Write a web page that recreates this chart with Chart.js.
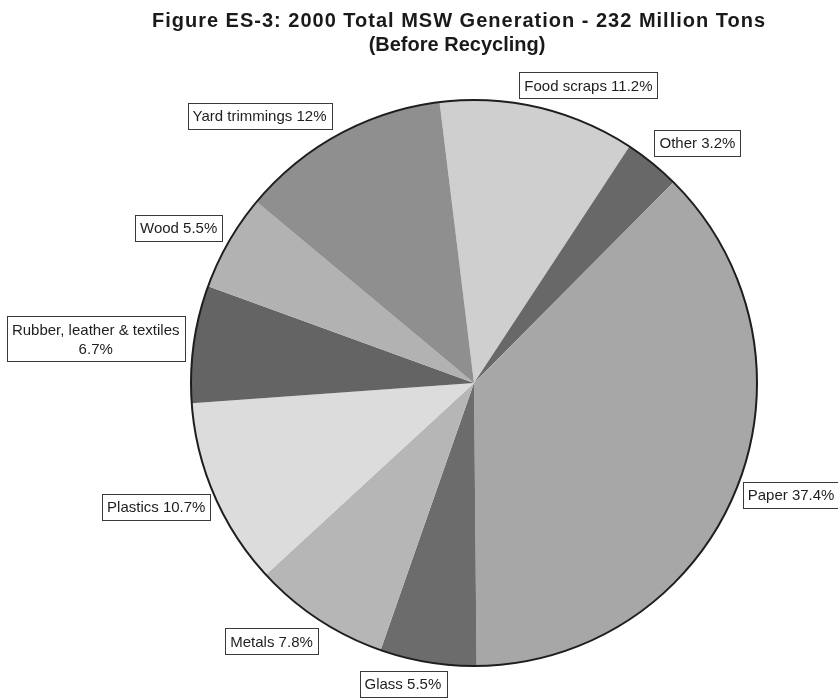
<!DOCTYPE html>
<html lang="en">
<head>
  <meta charset="UTF-8" />
  <title>Figure ES-3: 2000 Total MSW Generation</title>
  <script src="https://cdn.jsdelivr.net/npm/chart.js"></script>
  <style>
    body {
      margin: 0;
      padding: 0;
      background-color: #ffffff;
      overflow: hidden;
    }
    canvas {
      display: block;
    }
  </style>
</head>
<body>
  <canvas id="mswChart" width="838" height="698"></canvas>

  <script>
    const titleLines = [
      'Figure ES-3: 2000 Total MSW Generation - 232 Million Tons',
      '(Before Recycling)'
    ];

    const categories = [
      'Food scraps', 'Other', 'Paper', 'Glass', 'Metals',
      'Plastics', 'Rubber, leather & textiles', 'Wood', 'Yard trimmings'
    ];
    const shares = [11.2, 3.2, 37.4, 5.5, 7.8, 10.7, 6.7, 5.5, 12];
    const shareText = ['11.2%', '3.2%', '37.4%', '5.5%', '7.8%', '10.7%', '6.7%', '5.5%', '12%'];

    // styling only
    const sliceColors = [
      '#cfcfcf', '#686868', '#a7a7a7', '#6c6c6c', '#b6b6b6',
      '#dcdcdc', '#646464', '#b2b2b2', '#8f8f8f'
    ];
    // label offset from the point where the slice middle meets the rim
    const labelOffsets = [
      [50, -22], [45, -20], [55, 5], [-25, 22], [-47, 22],
      [-58, 12], [-98, -5], [-50, -14], [-79, -19]
    ];
    const labelFont = '15px "Liberation Sans", Arial, sans-serif';

    const titlePlugin = {
      id: 'figTitle',
      afterDraw(chart) {
        const c = chart.ctx;
        c.save();
        c.fillStyle = '#1a1a1a';
        c.font = 'bold 20px "Liberation Sans", Arial, sans-serif';
        c.textAlign = 'center';
        c.textBaseline = 'alphabetic';
        c.letterSpacing = '1px';
        c.fillText(titleLines[0], 459, 27);
        c.letterSpacing = '0px';
        c.fillText(titleLines[1], 457, 51);
        c.restore();
      }
    };

    const rimAndLabels = {
      id: 'rimAndLabels',
      afterDatasetsDraw(chart) {
        const c = chart.ctx;
        const arcs = chart.getDatasetMeta(0).data;
        if (!arcs.length) return;
        const a0 = arcs[0];

        // dark outline around the pie
        c.save();
        c.beginPath();
        c.arc(a0.x, a0.y, a0.outerRadius, 0, Math.PI * 2);
        c.lineWidth = 2;
        c.strokeStyle = '#1e1e1e';
        c.stroke();

        c.font = labelFont;
        c.textAlign = 'center';
        c.textBaseline = 'middle';
        arcs.forEach((arc, i) => {
          const mid = (arc.startAngle + arc.endAngle) / 2;
          const ax = arc.x + Math.cos(mid) * arc.outerRadius;
          const ay = arc.y + Math.sin(mid) * arc.outerRadius;
          const cx = ax + labelOffsets[i][0];
          const cy = ay + labelOffsets[i][1];

          let lines;
          if (categories[i].length > 20) {
            lines = [categories[i], shareText[i]];
          } else {
            lines = [categories[i] + ' ' + shareText[i]];
          }
          const lh = 19;
          const w = Math.max(...lines.map(l => c.measureText(l).width)) + 10;
          const h = lines.length * lh + 7;

          c.fillStyle = '#ffffff';
          c.fillRect(cx - w / 2, cy - h / 2, w, h);
          c.lineWidth = 1;
          c.strokeStyle = '#3a3a3a';
          c.strokeRect(Math.round(cx - w / 2) + 0.5, Math.round(cy - h / 2) + 0.5, Math.round(w), Math.round(h));

          c.fillStyle = '#1e1e1e';
          lines.forEach((l, k) => {
            c.fillText(l, cx, cy - (lines.length - 1) * lh / 2 + k * lh + 1);
          });
        });
        c.restore();
      }
    };

    const ctx = document.getElementById('mswChart').getContext('2d');

    new Chart(ctx, {
      type: 'pie',
      data: {
        labels: categories,
        datasets: [{
          data: shares,
          backgroundColor: sliceColors,
          borderWidth: 0
        }]
      },
      options: {
        responsive: false,
        animation: false,
        rotation: -7,
        layout: {
          padding: { left: 191, top: 100, right: 81, bottom: 32 }
        },
        plugins: {
          legend: { display: false },
          tooltip: { enabled: false },
          title: { display: false }
        }
      },
      plugins: [rimAndLabels, titlePlugin]
    });
  </script>
</body>
</html>
